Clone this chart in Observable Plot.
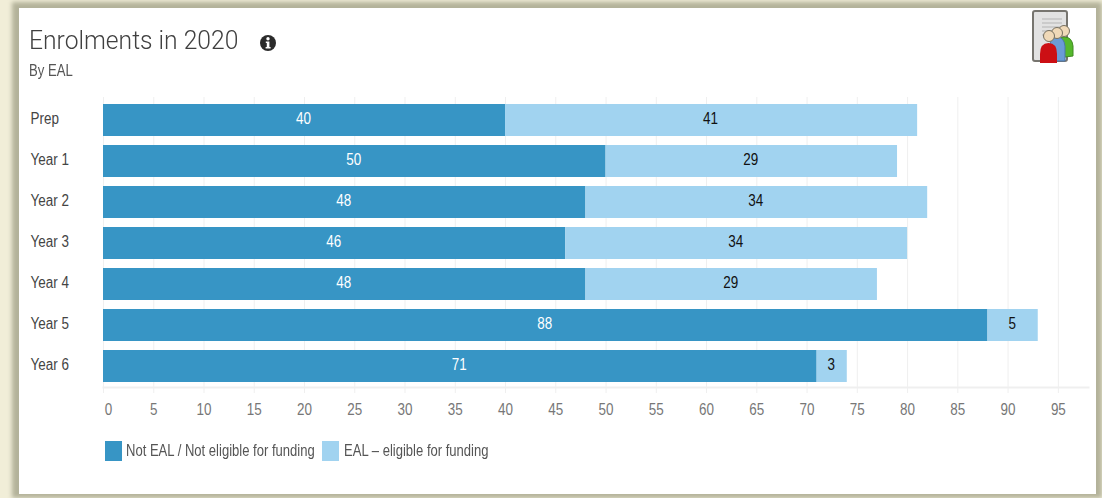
<!DOCTYPE html>
<html>
<head>
<meta charset="utf-8">
<script src="https://cdn.jsdelivr.net/npm/d3@7"></script>
<script src="https://cdn.jsdelivr.net/npm/@observablehq/plot@0.6"></script>
<style>
  html, body { margin: 0; padding: 0; width: 1102px; height: 498px; overflow: hidden; background: #f1eed8; }
  body { position: relative; font-family: "Liberation Sans", sans-serif; }
  #glow { position: absolute; left: 12px; top: 2px; width: 1090px; height: 496px; background: #b3b29a; filter: blur(2px); }
  #panel { position: absolute; left: 19px; top: 8px; width: 1077px; height: 486px; background: #fff; }
  #title { position: absolute; left: 29px; top: 25px; font: 300 26px Roboto, sans-serif; color: #404040; white-space: nowrap; transform: scaleX(0.948); transform-origin: left center; }
  #subtitle { position: absolute; left: 29px; top: 62px; font-size: 16px; color: #555; white-space: nowrap; transform: scaleX(0.82); transform-origin: left center; }
  #info { position: absolute; left: 259px; top: 34px; }
  #icon { position: absolute; left: 1028px; top: 8px; }
  #chart { position: absolute; left: 0; top: 92px; }
  .key { position: absolute; top: 441px; width: 17px; height: 20px; }
  .key-label { position: absolute; top: 442px; font-size: 16px; color: #555; white-space: nowrap; transform: scaleX(0.815); transform-origin: left center; }
</style>
</head>
<body>
<div id="glow"></div>
<div id="panel"></div>
<div id="title">Enrolments in 2020</div>
<div id="subtitle">By EAL</div>
<svg id="info" width="18" height="18" viewBox="0 0 18 18">
  <circle cx="9" cy="9" r="8" fill="#2b2b2b"/>
  <circle cx="9" cy="4.8" r="1.7" fill="#fff"/>
  <path d="M6.8 7.4h3.6v5.6h1.2v1.6H6.6V13h1.2V9H6.8z" fill="#fff"/>
</svg>
<svg id="icon" width="50" height="60" viewBox="0 0 50 60">
  <rect x="5" y="3" width="34" height="50" rx="2" fill="#e2e2e2" stroke="#77756f" stroke-width="2"/>
  <path d="M14 11h20M14 15h20M14 19h20M14 23h20M14 27h12" stroke="#c4c4c4" stroke-width="1.500"/>
  <path d="M29 50V38q0-9 7.500-9t8.500 9v10z" fill="#55b82c" stroke="#3f8a20"/>
  <circle cx="36" cy="23" r="5.500" fill="#f0d9b8" stroke="#77705f"/>
  <path d="M22 53V38q0-9 7-9t8 9v15z" fill="#6b9bd6" stroke="#4c76a8"/>
  <circle cx="29" cy="25" r="5.500" fill="#f0d9b8" stroke="#77705f"/>
  <path d="M12 55V46q0-11 8.500-11t8.500 11v9z" fill="#cc0f14"/>
  <circle cx="21" cy="28" r="5.500" fill="#f0d9b8" stroke="#77705f"/>
</svg>
<div id="chart"></div>
<script>
const years = ["Prep", "Year 1", "Year 2", "Year 3", "Year 4", "Year 5", "Year 6"];
const seriesNames = ["Not EAL / Not eligible for funding", "EAL – eligible for funding"];
const notEal = [40, 50, 48, 46, 48, 88, 71];
const eal = [41, 29, 34, 34, 29, 5, 3];
const colors = ["#3795c5", "#a1d3f0"];
const labelColors = ["#ffffff", "#111111"];
const xTicks = d3.range(5, 100, 5);

const rows = [
  ...years.map((year, i) => ({year, series: seriesNames[0], value: notEal[i]})),
  ...years.map((year, i) => ({year, series: seriesNames[1], value: eal[i]}))
];

const chart = Plot.plot({
  width: 1102,
  height: 330,
  marginLeft: 103,
  marginRight: 14,
  marginTop: 7,
  marginBottom: 35,
  style: {background: "transparent", fontFamily: "'Liberation Sans', sans-serif", fontSize: "16px"},
  x: {domain: [0, 98], label: null},
  y: {domain: years, label: null, paddingInner: 0.22, paddingOuter: 0.11},
  color: {domain: seriesNames, range: colors},
  marks: [
    Plot.ruleX([0, ...xTicks], {stroke: "#efefef", strokeOpacity: 1, insetTop: -2, insetBottom: -6}),
    Plot.frame({anchor: "bottom", stroke: "#efefef", strokeOpacity: 1, strokeWidth: 2}),
    Plot.barX(rows, Plot.stackX({x: "value", y: "year", z: "series", order: null, fill: "series"})),
    Plot.text(rows, Plot.stackX({
      x: "value", y: "year", z: "series", order: null,
      text: "value",
      fill: (d) => labelColors[seriesNames.indexOf(d.series)],
      dx: -1,
      dy: -2
    })),
    Plot.axisY({tickSize: 0, tickPadding: 73, textAnchor: "start", fill: "#444", label: null, dy: -2}),
    Plot.axisX([0], {tickSize: 0, tickPadding: 16, dx: 5, fill: "#777", stroke: "none", label: null}),
    Plot.axisX(xTicks, {tickSize: 0, tickPadding: 16, fill: "#777", label: null})
  ]
});
document.getElementById("chart").append(chart);

// Condense every chart label horizontally, keeping its height.
chart.querySelectorAll("text").forEach((t) => {
  t.setAttribute("textLength", t.getComputedTextLength() * 0.84);
  t.setAttribute("lengthAdjust", "spacingAndGlyphs");
});

// Legend swatches sit below the plot and share the bar colours.
const swatchLeft = [105, 322];
const labelLeft = [126, 344];
seriesNames.forEach((name, i) => {
  const swatch = document.createElement("div");
  swatch.className = "key";
  swatch.style.left = swatchLeft[i] + "px";
  swatch.style.background = colors[i];
  const label = document.createElement("div");
  label.className = "key-label";
  label.style.left = labelLeft[i] + "px";
  label.textContent = name;
  document.body.append(swatch, label);
});
</script>
</body>
</html>
